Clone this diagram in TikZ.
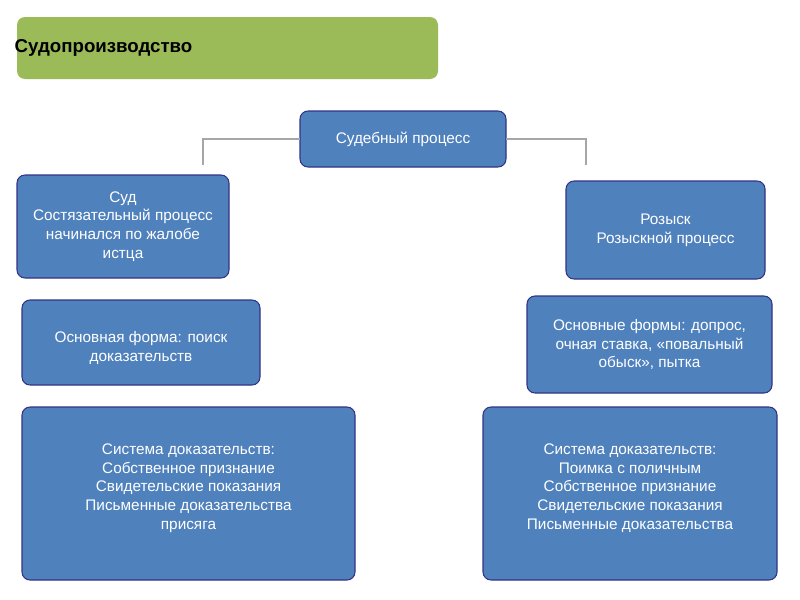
\documentclass[tikz,border=0pt]{standalone}
\usepackage{fontspec}
\setmainfont{Liberation Sans}
\begin{document}
\begin{tikzpicture}[x=0.75pt,y=-0.75pt,
 bx/.style={draw=blue!40!black!80,line width=0.8pt,fill={rgb,255:red,79;green,129;blue,189},rounded corners=6pt,text=white,font=\fontsize{11.5}{14}\selectfont,align=center,inner sep=0pt},
 ln/.style={draw=gray!70,line width=0.8pt}]
\useasboundingbox (0,0) rectangle (800,600);
\fill[fill={rgb,255:red,155;green,187;blue,89},rounded corners=6pt] (17,17) rectangle (438,79);
\node[anchor=west,font=\bfseries\fontsize{14}{16}\selectfont,text=black] (t) at (10,48) {Судопроизводство};
\draw[bx] (300,111) rectangle (506,167) node[midway] (root) {Судебный процесс};
\draw[bx] (17,175) rectangle (229,278) node[midway] (l1) {Суд\\Состязательный процесс\\начинался по жалобе\\истца};
\draw[bx] (566,181) rectangle (765,279) node[midway] (r1) {Розыск\\Розыскной процесс};
\draw[bx] (22,300) rectangle (260,385) node[midway,yshift=-4pt] (l2) {Основная форма: поиск\\доказательств};
\draw[bx] (527,296) rectangle (772,393) node[midway] (r2) {Основные формы: допрос,\\очная ставка, «повальный\\обыск», пытка};
\draw[bx] (22,407) rectangle (355,580) node[midway,yshift=4pt] (l3) {Система доказательств:\\Собственное признание\\Свидетельские показания\\Письменные доказательства\\присяга};
\draw[bx] (483,407) rectangle (777,580) node[midway,yshift=4pt] (r3) {Система доказательств:\\Поимка с поличным\\Собственное признание\\Свидетельские показания\\Письменные доказательства};
\coordinate (a) at (300,139); \coordinate (b) at (203,165);
\coordinate (c) at (506,139); \coordinate (d) at (586,165);
\draw[ln] (a) -| (b);
\draw[ln] (c) -| (d);
\end{tikzpicture}
\end{document}
